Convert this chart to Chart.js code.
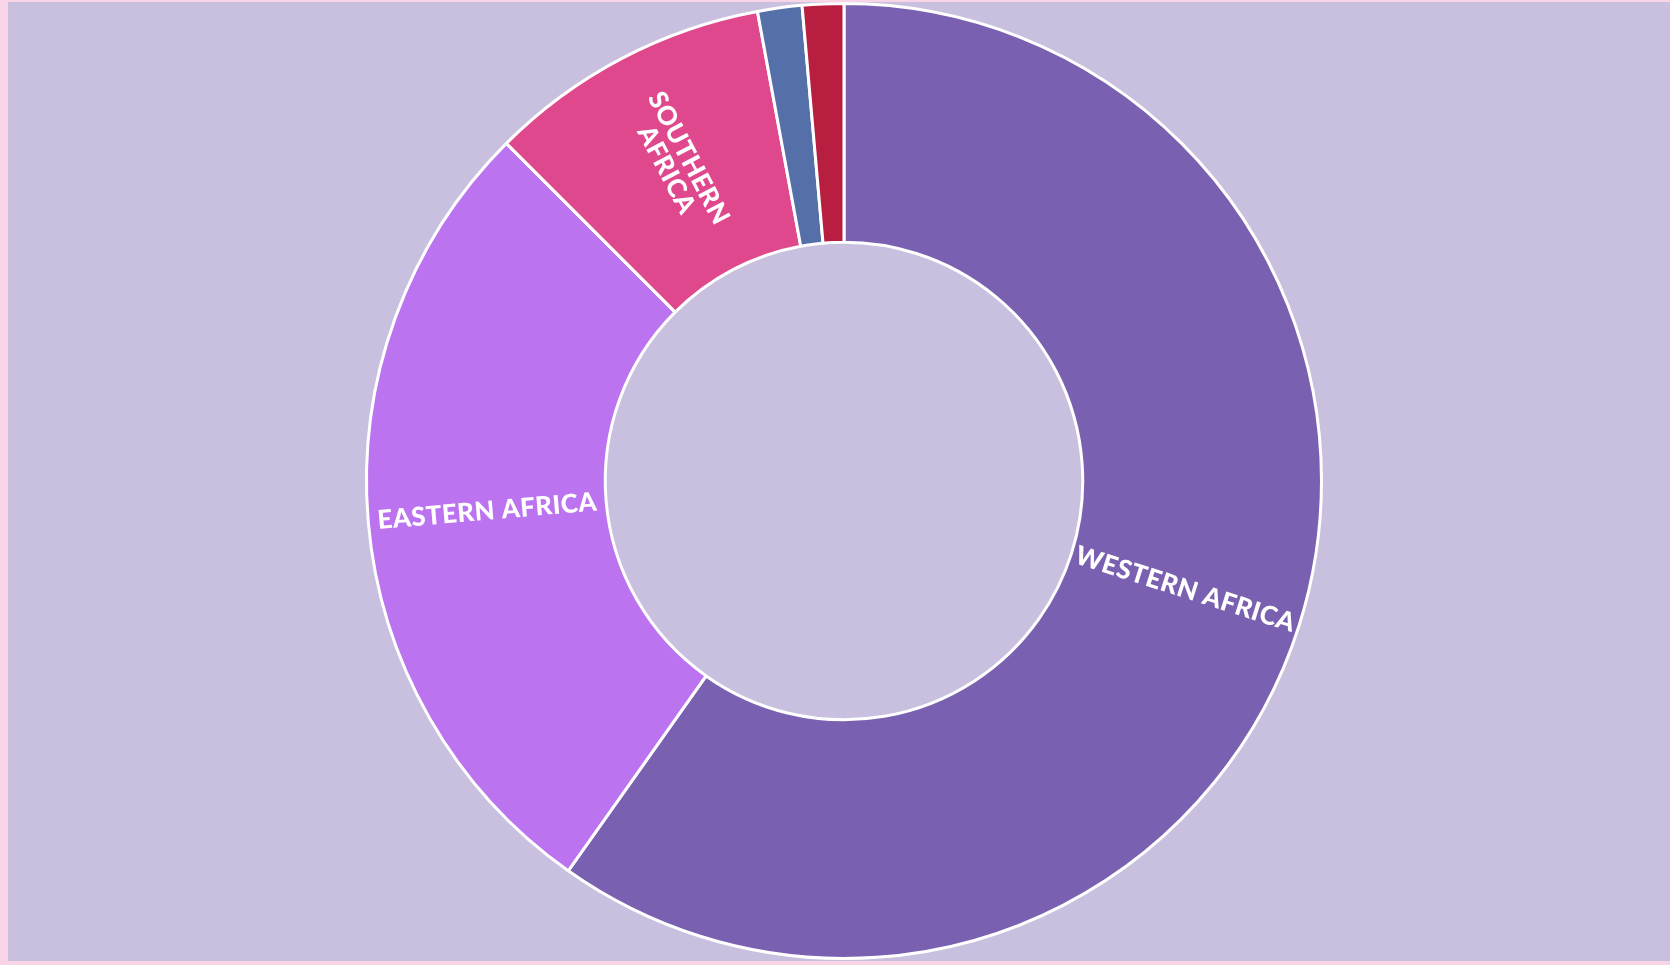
<!DOCTYPE html>
<html>
<head>
<meta charset="utf-8">
<script src="https://cdn.jsdelivr.net/npm/chart.js@4.4.0/dist/chart.umd.min.js"></script>
<style>
  html, body { margin: 0; padding: 0; background: #f8d5e6; width: 1670px; height: 965px; overflow: hidden; }
  #wrap { position: absolute; left: 8px; top: 2px; width: 1662px; height: 959px; background: #c8c0de; }
</style>
</head>
<body>
<div id="wrap"><canvas id="chart"></canvas></div>
<script>
// share of the total
const regions = ['Western Africa', 'Eastern Africa', 'Southern Africa', 'Central Africa', 'Northern Africa'];
const shares = [59.8, 27.7, 9.6, 1.5, 1.4];
const sliceColors = ['#7a60b0', '#bb73f0', '#e0488d', '#5570a8', '#b71e40'];

// writes the region name along the radius of each slice big enough to hold it
const sliceLabels = {
  id: 'sliceLabels',
  afterDatasetsDraw(chart) {
    const ctx = chart.ctx;
    const meta = chart.getDatasetMeta(0);
    ctx.save();
    ctx.fillStyle = '#ffffff';
    ctx.font = '900 26px Lato';
    ctx.letterSpacing = '0.4px';
    ctx.textAlign = 'center';
    ctx.textBaseline = 'middle';
    meta.data.forEach((arc, i) => {
      const p = arc.getProps(['x', 'y', 'startAngle', 'endAngle', 'innerRadius', 'outerRadius'], true);
      const span = p.endAngle - p.startAngle;
      if (span < 0.3) return;
      const mid = (p.startAngle + p.endAngle) / 2;
      const r = (p.innerRadius + p.outerRadius) / 2;
      const text = regions[i].toUpperCase();
      // narrow slices get the name on two lines
      const lines = span < 0.8 ? text.split(' ') : [text];
      let rot = mid;
      if (Math.cos(mid) < 0) rot += Math.PI;
      ctx.save();
      ctx.translate(p.x + Math.cos(mid) * r, p.y + Math.sin(mid) * r);
      ctx.rotate(rot);
      const lh = 25;
      lines.forEach((ln, k) => {
        ctx.fillText(ln, 0, (k - (lines.length - 1) / 2) * lh);
      });
      ctx.restore();
    });
    ctx.restore();
  }
};

const ctx = document.getElementById('chart').getContext('2d');
new Chart(ctx, {
  type: 'doughnut',
  data: {
    labels: regions,
    datasets: [{
      data: shares,
      backgroundColor: sliceColors,
      borderColor: '#ffffff',
      borderWidth: 3,
      hoverOffset: 0
    }]
  },
  options: {
    responsive: true,
    maintainAspectRatio: false,
    animation: false,
    cutout: '50%',
    layout: { padding: { left: 10, top: 0, right: 0, bottom: 1 } },
    plugins: {
      legend: { display: false },
      tooltip: { enabled: false }
    }
  },
  plugins: [sliceLabels]
});
</script>
</body>
</html>
